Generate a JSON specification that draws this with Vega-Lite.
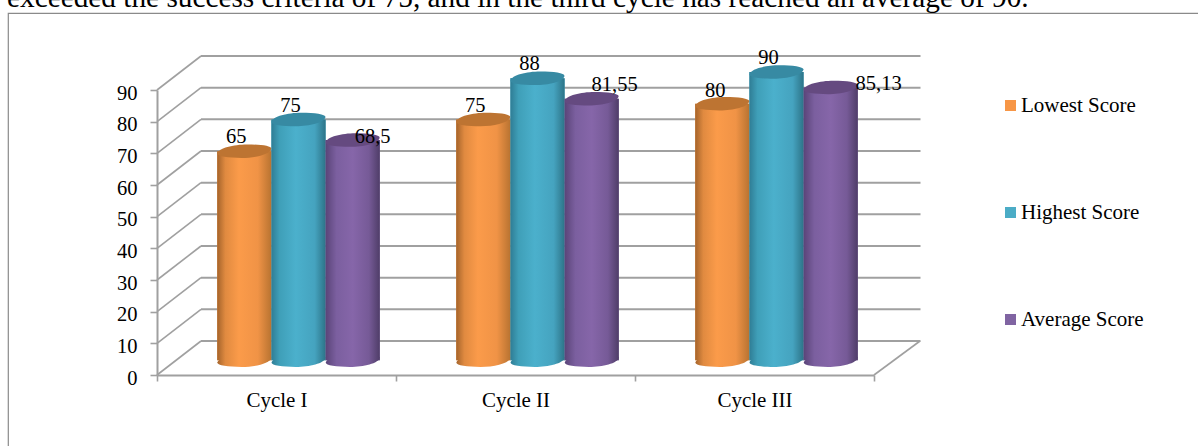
{
"$schema":"https://vega.github.io/schema/vega-lite/v6.json",
"width":1192,"height":435,
"autosize":{"type":"none"},
"padding":{"left":8,"top":13,"right":0,"bottom":0},
"background":"white",
"view":{"stroke":"#8a8a8a","strokeWidth":1.2,"fill":"white"},
"datasets":{
"ticks":[{"tick":0},{"tick":10},{"tick":20},{"tick":30},{"tick":40},{"tick":50},{"tick":60},{"tick":70},{"tick":80},{"tick":90}],
"scores":[
{"cycle":"Cycle I","series":"Lowest Score","score":65,"label":"65"},
{"cycle":"Cycle I","series":"Highest Score","score":75,"label":"75"},
{"cycle":"Cycle I","series":"Average Score","score":68.5,"label":"68,5"},
{"cycle":"Cycle II","series":"Lowest Score","score":75,"label":"75"},
{"cycle":"Cycle II","series":"Highest Score","score":88,"label":"88"},
{"cycle":"Cycle II","series":"Average Score","score":81.55,"label":"81,55"},
{"cycle":"Cycle III","series":"Lowest Score","score":80,"label":"80"},
{"cycle":"Cycle III","series":"Highest Score","score":90,"label":"90"},
{"cycle":"Cycle III","series":"Average Score","score":85.13,"label":"85,13"}
]},
"data":{"name":"scores"},
"resolve":{"scale":{"x":"independent","y":"independent"}},
"layer":[
{"data":{"values":[{"note":"exceeded the success criteria of 75, and in the third cycle has reached an average of 90."}]},
 "mark":{"type":"text","font":"Liberation Serif","fontSize":29.3,"color":"#000000","align":"left","baseline":"alphabetic"},
 "encoding":{
  "text":{"field":"note"},
  "x":{"datum":0,"type":"quantitative","scale":{"domain":[0,1],"range":[-1,100]},"axis":null},
  "y":{"datum":0,"type":"quantitative","scale":{"domain":[0,1],"range":[-6,-100]},"axis":null}}},
{"data":{"name":"ticks"},
 "mark":{"type":"rule","stroke":"#a0a0a0","strokeWidth":2},
 "encoding":{
  "x":{"datum":0,"type":"quantitative","scale":{"domain":[0,1],"range":[193,912.5]},"axis":null},
  "x2":{"datum":1},
  "y":{"field":"tick","type":"quantitative","scale":{"domain":[0,90],"range":[328,43]},"axis":null}}},
{"data":{"name":"ticks"},
 "mark":{"type":"rule","stroke":"#a0a0a0","strokeWidth":1.6,"x2Offset":44,"y2Offset":-34},
 "encoding":{
  "x":{"datum":0,"type":"quantitative","scale":{"domain":[0,1],"range":[149,866]},"axis":null},
  "x2":{"datum":0},
  "y":{"field":"tick","type":"quantitative","scale":{"domain":[0,90],"range":[362,77]},
   "axis":{"title":null,"offset":-149,"values":[0,10,20,30,40,50,60,70,80,90],"grid":false,"domainColor":"#a0a0a0","domainWidth":2,"tickColor":"#a0a0a0","tickWidth":1.6,"tickSize":7,"labelFont":"Liberation Serif","labelFontSize":20.5,"labelColor":"#000000","labelPadding":13,"labelOffset":3}},
  "y2":{"field":"tick"}}},
{"data":{"values":[{"tick":0}]},
 "mark":{"type":"rule","stroke":"#a0a0a0","strokeWidth":1.6,"x2Offset":46,"y2Offset":-34},
 "encoding":{
  "x":{"datum":1,"type":"quantitative","scale":{"domain":[0,1],"range":[149,866]},"axis":null},
  "x2":{"datum":1},
  "y":{"field":"tick","type":"quantitative","scale":{"domain":[0,90],"range":[362,77]},"axis":null},
  "y2":{"field":"tick"}}},
{"mark":{"type":"text","opacity":0},
 "encoding":{
  "x":{"field":"cycle","type":"nominal","sort":["Cycle I","Cycle II","Cycle III"],
   "scale":{"domain":["Cycle I","Cycle II","Cycle III"],"range":[149,866],"paddingInner":0,"paddingOuter":0},
   "axis":{"title":null,"orient":"bottom","offset":-73,"labelAngle":0,"tickBand":"extent","domainColor":"#a0a0a0","domainWidth":2,"tickColor":"#a0a0a0","tickWidth":1.6,"tickSize":6,"labelFont":"Liberation Serif","labelFontSize":21,"labelColor":"#000000","labelPadding":8}},
  "text":{"field":"label"}}},
{"encoding":{
  "x":{"field":"cycle","type":"nominal","sort":["Cycle I","Cycle II","Cycle III"],
   "scale":{"domain":["Cycle I","Cycle II","Cycle III"],"range":[171,888],"paddingInner":0.32,"paddingOuter":0.16},"axis":null},
  "xOffset":{"field":"series","type":"nominal","sort":["Lowest Score","Highest Score","Average Score"],
   "scale":{"domain":["Lowest Score","Highest Score","Average Score"],"paddingInner":0,"paddingOuter":0}},
  "y":{"field":"score","type":"quantitative","scale":{"domain":[0,90],"range":[344,59]},"axis":null}},
 "layer":[
 {"mark":{"type":"bar"},
  "encoding":{"y2":{"datum":-1},
   "color":{"field":"series","type":"nominal","sort":["Lowest Score","Highest Score","Average Score"],
    "scale":{"domain":["Lowest Score","Highest Score","Average Score"],"range":["#F79646","#4BACC6","#8064A2"]},
    "legend":{"title":null,"orient":"none","legendX":992,"legendY":82,"symbolType":"square","symbolSize":121,"symbolStrokeWidth":0,"labelFont":"Liberation Serif","labelFontSize":21,"labelColor":"#000000","labelOffset":0,"rowPadding":85,"labelLimit":300}}}},
 {"transform":[{"filter":"datum.series==='Lowest Score'"}],
  "layer":[
  {"mark":{"type":"point","filled":true,"opacity":1,"size":2916,"shape":"M-1,.09 C-.96,-.12 -.4,-.25 .1,-.25 C.6,-.25 1,-.2 1,-.09 C.96,.12 .4,.25 -.1,.25 C-.6,.25 -1,.2 -1,.09 Z","color":{"gradient":"linear","x1":0,"x2":1,"y1":0,"y2":0,"stops":[{"offset":0,"color":"#a5642b"},{"offset":0.15,"color":"#e08a40"},{"offset":0.4,"color":"#fb9b4a"},{"offset":0.75,"color":"#f09346"},{"offset":1,"color":"#b87331"}]}},"encoding":{"y":{"datum":-1}}},
  {"mark":{"type":"bar","color":{"gradient":"linear","x1":0,"x2":1,"y1":0,"y2":0,"stops":[{"offset":0,"color":"#a5642b"},{"offset":0.15,"color":"#e08a40"},{"offset":0.4,"color":"#fb9b4a"},{"offset":0.75,"color":"#f09346"},{"offset":1,"color":"#b87331"}]}},"encoding":{"y2":{"datum":-1}}},
  {"mark":{"type":"point","filled":true,"opacity":1,"size":2916,"color":"#bd7432","shape":"M-1,.09 C-.96,-.12 -.4,-.25 .1,-.25 C.6,-.25 1,-.2 1,-.09 C.96,.12 .4,.25 -.1,.25 C-.6,.25 -1,.2 -1,.09 Z"}}
  ]},
 {"transform":[{"filter":"datum.series==='Highest Score'"}],
  "layer":[
  {"mark":{"type":"point","filled":true,"opacity":1,"size":2916,"shape":"M-1,.09 C-.96,-.12 -.4,-.25 .1,-.25 C.6,-.25 1,-.2 1,-.09 C.96,.12 .4,.25 -.1,.25 C-.6,.25 -1,.2 -1,.09 Z","color":{"gradient":"linear","x1":0,"x2":1,"y1":0,"y2":0,"stops":[{"offset":0,"color":"#2f7d95"},{"offset":0.15,"color":"#3f9fb8"},{"offset":0.45,"color":"#4bb0cc"},{"offset":0.8,"color":"#45a3bf"},{"offset":1,"color":"#2d7488"}]}},"encoding":{"y":{"datum":-1}}},
  {"mark":{"type":"bar","color":{"gradient":"linear","x1":0,"x2":1,"y1":0,"y2":0,"stops":[{"offset":0,"color":"#2f7d95"},{"offset":0.15,"color":"#3f9fb8"},{"offset":0.45,"color":"#4bb0cc"},{"offset":0.8,"color":"#45a3bf"},{"offset":1,"color":"#2d7488"}]}},"encoding":{"y2":{"datum":-1}}},
  {"mark":{"type":"point","filled":true,"opacity":1,"size":2916,"color":"#378aa3","shape":"M-1,.09 C-.96,-.12 -.4,-.25 .1,-.25 C.6,-.25 1,-.2 1,-.09 C.96,.12 .4,.25 -.1,.25 C-.6,.25 -1,.2 -1,.09 Z"}}
  ]},
 {"transform":[{"filter":"datum.series==='Average Score'"}],
  "layer":[
  {"mark":{"type":"point","filled":true,"opacity":1,"size":2916,"shape":"M-1,.09 C-.96,-.12 -.4,-.25 .1,-.25 C.6,-.25 1,-.2 1,-.09 C.96,.12 .4,.25 -.1,.25 C-.6,.25 -1,.2 -1,.09 Z","color":{"gradient":"linear","x1":0,"x2":1,"y1":0,"y2":0,"stops":[{"offset":0,"color":"#5a4478"},{"offset":0.2,"color":"#7b5f9f"},{"offset":0.5,"color":"#8666a9"},{"offset":0.8,"color":"#765a97"},{"offset":1,"color":"#4f3d68"}]}},"encoding":{"y":{"datum":-1}}},
  {"mark":{"type":"bar","color":{"gradient":"linear","x1":0,"x2":1,"y1":0,"y2":0,"stops":[{"offset":0,"color":"#5a4478"},{"offset":0.2,"color":"#7b5f9f"},{"offset":0.5,"color":"#8666a9"},{"offset":0.8,"color":"#765a97"},{"offset":1,"color":"#4f3d68"}]}},"encoding":{"y2":{"datum":-1}}},
  {"mark":{"type":"point","filled":true,"opacity":1,"size":2916,"color":"#654a80","shape":"M-1,.09 C-.96,-.12 -.4,-.25 .1,-.25 C.6,-.25 1,-.2 1,-.09 C.96,.12 .4,.25 -.1,.25 C-.6,.25 -1,.2 -1,.09 Z"}}
  ]},
 {"transform":[{"filter":"datum.series!=='Average Score' && datum.label!=='80'"}],
  "mark":{"type":"text","font":"Liberation Serif","fontSize":20.5,"color":"#000000","dx":-8,"dy":-14},
  "encoding":{"text":{"field":"label"}}},
 {"transform":[{"filter":"datum.label==='80'"}],
  "mark":{"type":"text","font":"Liberation Serif","fontSize":20.5,"color":"#000000","dx":-7,"dy":-13},
  "encoding":{"text":{"field":"label"}}},
 {"transform":[{"filter":"datum.label==='68,5'"}],
  "mark":{"type":"text","font":"Liberation Serif","fontSize":20.5,"color":"#000000","dx":20,"dy":-3},
  "encoding":{"text":{"field":"label"}}},
 {"transform":[{"filter":"datum.label==='81,55'"}],
  "mark":{"type":"text","font":"Liberation Serif","fontSize":20.5,"color":"#000000","dx":23,"dy":-14},
  "encoding":{"text":{"field":"label"}}},
 {"transform":[{"filter":"datum.label==='85,13'"}],
  "mark":{"type":"text","font":"Liberation Serif","fontSize":20.5,"color":"#000000","dx":48,"dy":-3},
  "encoding":{"text":{"field":"label"}}}
 ]}
]}
